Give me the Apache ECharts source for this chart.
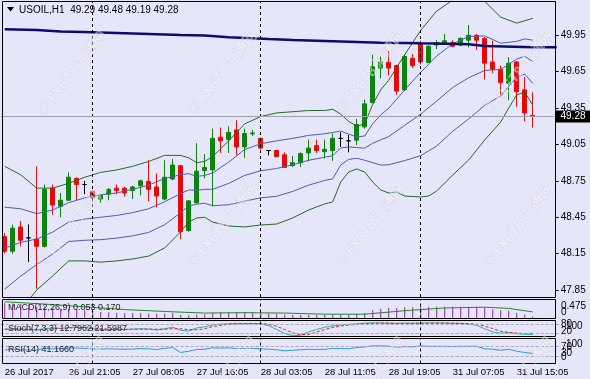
<!DOCTYPE html>
<html><head><meta charset="utf-8">
<script src="https://cdn.jsdelivr.net/npm/echarts@6/dist/echarts.min.js"></script>
<style>html,body{margin:0;padding:0;background:#E6E6FA}#c{width:590px;height:379px}</style>
</head><body><div id="c"></div><script>
// ---- data ----
const daySegments = [['26 Jul', 13, 23], ['27 Jul', 3, 23], ['28 Jul', 3, 22], ['31 Jul', 3, 20]];
const categories = [];
daySegments.forEach(([d, a, b]) => { for (let h = a; h <= b; h++) categories.push(d + ' ' + String(h).padStart(2, '0') + ':05'); });
const timeLabelIdx = [0, 8, 16, 24, 32, 40, 48, 56, 64];
const timeLabelText = ['26 Jul 2017', '26 Jul 21:05', '27 Jul 08:05', '27 Jul 16:05', '28 Jul 03:05', '28 Jul 11:05', '28 Jul 19:05', '31 Jul 07:05', '31 Jul 15:05'];
const separatorIdx = [11, 32, 52];
const priceTicks = [47.85, 48.15, 48.45, 48.75, 49.05, 49.35, 49.65, 49.95];
const lastPrice = 49.28;

const opens  = [48.29,48.17,48.37,48.28,48.27,48.21,48.69,48.54,48.59,48.77,48.72,48.66,48.60,48.64,48.69,48.69,48.67,48.71,48.745,48.70,48.60,48.765,48.875,48.34,48.57,48.835,48.84,49.11,49.09,49.17,49.03,49.138,49.10,49.00,49.00,48.965,48.875,48.90,48.98,49.04,48.99,49.00,49.10,49.08,49.085,49.195,49.395,49.68,49.725,49.70,49.50,49.76,49.88,49.725,49.87,49.88,49.89,49.87,49.91,49.95,49.925,49.73,49.67,49.555,49.73,49.50,49.29];
const highs  = [48.32,48.39,48.42,48.39,48.87,48.72,48.72,48.65,48.82,48.78,48.75,48.675,48.64,48.69,48.72,48.70,48.71,48.76,48.92,48.81,48.92,48.93,48.88,48.59,49.06,48.97,49.18,49.19,49.20,49.25,49.18,49.17,49.105,49.00,49.005,48.985,48.955,48.985,49.09,49.09,49.09,49.14,49.15,49.13,49.26,49.42,49.79,49.775,49.82,49.71,49.79,49.795,49.905,49.865,49.91,49.96,49.91,49.93,50.035,49.96,49.935,49.905,49.70,49.77,49.735,49.605,49.48];
const lows   = [48.15,48.15,48.21,48.08,47.86,48.20,48.47,48.45,48.59,48.59,48.64,48.58,48.57,48.59,48.64,48.62,48.60,48.63,48.58,48.53,48.59,48.755,48.27,48.33,48.56,48.77,48.54,48.98,48.98,48.96,48.94,49.12,49.01,48.96,48.945,48.855,48.865,48.865,48.91,48.98,48.935,48.915,49.03,48.985,49.045,49.18,49.39,49.595,49.62,49.46,49.495,49.68,49.71,49.725,49.835,49.87,49.85,49.86,49.85,49.83,49.585,49.64,49.46,49.415,49.36,49.24,49.19];
const closes = [48.17,48.36,48.26,48.28,48.21,48.68,48.55,48.59,48.78,48.72,48.72,48.61,48.63,48.68,48.67,48.65,48.70,48.75,48.68,48.625,48.78,48.88,48.33,48.585,48.83,48.86,49.10,49.08,49.15,49.03,49.14,49.145,49.02,49.00,48.95,48.86,48.90,48.975,49.02,49.00,49.01,49.10,49.10,49.08,49.215,49.385,49.69,49.73,49.68,49.49,49.775,49.70,49.73,49.86,49.89,49.905,49.86,49.925,49.95,49.91,49.72,49.67,49.56,49.72,49.485,49.31,49.28];

const bbUpper  = [[0,48.87],[2,48.80],[4,48.69],[6,48.69],[8,48.73],[10,48.78],[12,48.82],[14,48.84],[16,48.87],[18,48.91],[20,48.96],[22,48.96],[23,48.94],[24,48.90],[25,48.91],[26,48.95],[28,49.08],[30,49.22],[32,49.28],[34,49.31],[36,49.32],[38,49.33],[40,49.33],[41,49.34],[42,49.30],[43,49.24],[44,49.20],[45,49.22],[46,49.38],[47,49.50],[48,49.58],[50,49.79],[52,49.99],[54,50.15],[56,50.24],[58,50.28],[60,50.23],[62,50.10],[64,50.05],[65,50.07],[66,50.09]];
const bbLower  = [[0,47.52],[2,47.685],[4,47.85],[6,47.966],[8,48.09],[10,48.09],[12,48.08],[14,48.09],[16,48.106],[18,48.13],[20,48.197],[22,48.33],[23,48.41],[24,48.444],[25,48.45],[26,48.41],[28,48.378],[30,48.37],[32,48.386],[34,48.394],[36,48.444],[38,48.51],[40,48.56],[41,48.576],[42,48.74],[43,48.823],[44,48.848],[45,48.823],[46,48.74],[47,48.675],[48,48.65],[49,48.658],[50,48.625],[52,48.617],[53,48.625],[54,48.666],[56,48.798],[58,48.922],[60,49.087],[62,49.235],[63,49.35],[64,49.458],[65,49.483],[66,49.375]];
const bandMid  = [[0,48.195],[2,48.243],[4,48.27],[6,48.328],[8,48.41],[10,48.435],[12,48.45],[14,48.465],[16,48.488],[18,48.52],[20,48.578],[22,48.645],[23,48.675],[24,48.672],[25,48.68],[26,48.68],[28,48.729],[30,48.795],[32,48.833],[34,48.852],[36,48.882],[38,48.92],[40,48.945],[41,48.958],[42,49.02],[43,49.03],[44,49.024],[45,49.02],[46,49.06],[47,49.088],[48,49.115],[50,49.208],[52,49.30],[54,49.408],[56,49.52],[58,49.60],[60,49.66],[62,49.668],[64,49.754],[65,49.777],[66,49.733]];
const bandUp1  = [[0,48.533],[2,48.52],[4,48.48],[6,48.51],[8,48.57],[10,48.61],[12,48.635],[14,48.65],[16,48.68],[18,48.715],[20,48.77],[22,48.80],[23,48.81],[24,48.786],[25,48.795],[26,48.815],[28,48.905],[30,49.008],[32,49.056],[34,49.08],[36,49.10],[38,49.125],[40,49.138],[41,49.149],[42,49.16],[43,49.135],[44,49.112],[45,49.12],[46,49.22],[47,49.294],[48,49.348],[50,49.50],[52,49.645],[54,49.78],[56,49.88],[58,49.94],[60,49.945],[62,49.885],[64,49.90],[65,49.92],[66,49.91]];
const bandLow1 = [[0,47.858],[2,47.964],[4,48.06],[6,48.147],[8,48.25],[10,48.26],[12,48.265],[14,48.278],[16,48.297],[18,48.325],[20,48.388],[22,48.488],[23,48.543],[24,48.558],[25,48.565],[26,48.545],[28,48.553],[30,48.583],[32,48.61],[34,48.623],[36,48.663],[38,48.715],[40,48.753],[41,48.767],[42,48.88],[43,48.927],[44,48.936],[45,48.92],[46,48.90],[47,48.88],[48,48.883],[50,48.917],[52,48.958],[54,49.037],[56,49.159],[58,49.26],[60,49.373],[62,49.45],[64,49.606],[65,49.63],[66,49.554]];
const longMA   = [[0,49.999],[4,49.994],[7,49.981],[11,49.975],[14,49.969],[18,49.961],[22,49.952],[25,49.948],[28,49.934],[33,49.919],[36,49.911],[40,49.903],[44,49.895],[47,49.889],[50,49.887],[52,49.884],[58,49.876],[60,49.862],[66,49.851],[69,49.851]];

const macdMain   = [0.40,0.39,0.37,0.34,0.30,0.30,0.27,0.25,0.25,0.23,0.21,0.19,0.17,0.16,0.15,0.14,0.14,0.14,0.13,0.12,0.13,0.14,0.09,0.08,0.10,0.11,0.14,0.16,0.17,0.17,0.17,0.17,0.16,0.14,0.12,0.10,0.09,0.09,0.09,0.09,0.09,0.10,0.10,0.10,0.12,0.15,0.21,0.25,0.27,0.27,0.29,0.29,0.30,0.30,0.30,0.30,0.30,0.30,0.30,0.30,0.27,0.24,0.21,0.20,0.15,0.10,0.053];
const macdSignal = [[0,0.43],[5,0.37],[10,0.30],[15,0.23],[20,0.18],[25,0.14],[30,0.15],[35,0.14],[40,0.11],[45,0.11],[50,0.20],[55,0.27],[60,0.29],[63,0.26],[66,0.17]];
const stochMain   = [45,50,48,45,42,50,55,52,58,60,58,50,45,45,48,45,47,50,48,42,50,60,40,35,55,62,75,80,82,83,83,84,82,70,45,20,5,8,30,45,60,68,75,78,82,86,88,87,85,84,86,85,86,88,87,86,85,84,80,72,50,30,22,25,18,15,12.7962];
const stochSignal = [48,48,48,47,46,46,49,52,55,57,58,55,51,47,46,46,47,47,48,47,47,50,50,45,43,50,64,72,79,82,83,83,83,79,66,45,23,11,14,28,45,58,68,74,78,82,85,87,87,85,85,85,86,86,87,87,86,85,83,79,67,51,34,26,22,19,21.5987];
const rsiValues   = [55,58,56,55,54,62,60,60,64,63,62,60,59,60,59,58,59,61,60,57,62,65,45,50,57,58,64,63,64,61,62,62,60,58,56,52,54,56,58,57,58,61,61,60,65,68,72,72,71,66,69,68,72,70,70,70,69,70,70,70,60,58,54,58,50,45,41.166];

// ---- chart ----
const FONT = 'Liberation Sans, Arial, sans-serif';
const BG = '#E6E6FA';
const chart = echarts.init(document.getElementById('c'), null, {width: 590, height: 379});
const G = [
  {left: 0.7, width: 560, top: 2, height: 295},
  {left: 0.7, width: 560, top: 300, height: 18.5},
  {left: 0.7, width: 560, top: 321, height: 15.5},
  {left: 0.7, width: 560, top: 339, height: 24.5}
];
const xAxes = G.map((g, i) => ({
  type: 'category', gridIndex: i, data: categories, boundaryGap: true,
  axisLine: {show: false}, axisTick: {show: false}, splitLine: {show: false},
  axisLabel: i === 3 ? {
    show: true, interval: (idx) => timeLabelIdx.includes(idx),
    formatter: (v, idx) => timeLabelText[timeLabelIdx.indexOf(idx)] || '',
    align: 'left', margin: 4, fontSize: 9.5, color: '#000', fontFamily: FONT
  } : {show: false}
}));
const yAxes = [
  {type: 'value', gridIndex: 0, position: 'right', offset: -5, min: 47.7925, max: 50.2245, scale: true,
   axisLine: {show: false}, splitLine: {show: false},
   axisTick: {show: true, customValues: priceTicks, length: 3, lineStyle: {color: '#000'}},
   axisLabel: {show: true, customValues: priceTicks, formatter: v => v.toFixed(2), margin: 5, fontSize: 10, color: '#000', fontFamily: FONT}},
  {type: 'value', gridIndex: 1, min: 0, max: 0.475, show: false},
  {type: 'value', gridIndex: 2, min: 0, max: 100, show: false},
  {type: 'value', gridIndex: 3, min: 0, max: 100, show: false}
];
const sepLine = (extra) => ({
  silent: true, symbol: 'none', animation: false, label: {show: false},
  lineStyle: {type: [3, 3], color: '#000', width: 1},
  data: separatorIdx.map(i => ({xAxis: categories[i]})).concat(extra || [])
});
const lineS = (data, color, width, xi, z) => ({
  type: 'line', data, xAxisIndex: xi || 0, yAxisIndex: xi || 0, symbol: 'none', smooth: false,
  lineStyle: {color, width}, z: z || 3, silent: true
});
const levelLines = (vals) => vals.map(v => ({yAxis: v, lineStyle: {type: [3, 2], color: '#a8a8b8', width: 1}}));

const watermarks = [];
let wi = 0;
[72, 225, 378].forEach(cy => [72, 222, 370, 518].forEach(cx => {
  watermarks.push({id: 'wm' + (wi++), type: 'text', x: cx, y: cy, rotation: 0.9, silent: true, z: 100,
    style: {text: '© FX678 汇通网', font: 'bold 14px "Noto Sans CJK SC", "DejaVu Sans", sans-serif',
      fill: 'rgba(255,255,255,0.45)', stroke: 'rgba(140,140,170,0.22)', lineWidth: 0.6,
      align: 'center', verticalAlign: 'middle', textAlign: 'center', textVerticalAlign: 'middle'}});
}));
let gid = 0;
const border = (x, y, w, h) => ({id: 'g' + (gid++), type: 'rect', shape: {x, y, width: w, height: h}, silent: true, z: 50,
  style: {fill: 'none', stroke: '#000', lineWidth: 1}});
const txt = (text, x, y, size, color, align) => ({id: 'g' + (gid++), type: 'text', x, y, silent: true, z: 60,
  style: {text, font: (size || 10) + 'px ' + FONT, fill: color || '#000', align: align || 'left', verticalAlign: 'middle', textAlign: align || 'left', textVerticalAlign: 'middle'}});

chart.setOption({
  animation: false,
  backgroundColor: BG,
  grid: G,
  xAxis: xAxes,
  yAxis: yAxes,
  series: [
    {type: 'candlestick', xAxisIndex: 0, yAxisIndex: 0, barWidth: 5, z: 2,
     data: opens.map((o, i) => [o, closes[i], lows[i], highs[i]]),
     itemStyle: {color: '#0d840d', color0: '#e60b0b', borderColor: '#0d840d', borderColor0: '#e60b0b', borderColorDoji: '#000', borderWidth: 1},
     markLine: sepLine([{yAxis: lastPrice, lineStyle: {type: 'solid', color: '#a0a0a8', width: 1}}])},
    lineS(bbUpper, '#226b22', 1),
    lineS(bbLower, '#226b22', 1),
    lineS(bandMid, '#4d5cb0', 1),
    lineS(bandUp1, '#4d5cb0', 1),
    lineS(bandLow1, '#4d5cb0', 1),
    lineS(longMA, '#0c0c6e', 2.5, 0, 4),
    {type: 'bar', xAxisIndex: 1, yAxisIndex: 1, data: macdMain, barWidth: 1, itemStyle: {color: '#9a2aa0'}, silent: true, markLine: sepLine()},
    lineS(macdSignal, '#1f8a1f', 1, 1),
    Object.assign(lineS(stochMain, '#20b2aa', 1, 2), {markLine: sepLine(levelLines([20, 80]))}),
    Object.assign(lineS(stochSignal, '#e02020', 1, 2), {lineStyle: {color: '#e02020', width: 1, type: [3, 2]}}),
    Object.assign(lineS(rsiValues, '#2a9ae0', 1, 3), {markLine: sepLine(levelLines([30, 70]))})
  ],
  graphic: [
    border(2.5, 1.5, 553, 296),
    border(2.5, 299.5, 553, 19),
    border(2.5, 320.5, 553, 16),
    border(2.5, 338.5, 553, 25),
    {id: 'tri', type: 'polygon', shape: {points: [[7, 7], [14, 7], [10.5, 11.5]]}, style: {fill: '#000'}, z: 60},
    txt('USOIL,H1  49.29 49.48 49.19 49.28', 19, 10, 10),
    txt('MACD(12,26,9) 0.053 0.170', 8, 308, 9, '#222'),
    txt('Stoch(7,3,3) 12.7962 21.5987', 8, 329, 9, '#222'),
    txt('RSI(14) 41.1660', 8, 350, 9, '#222'),
    txt('0.475', 561, 306, 10), txt('0', 561, 312, 10),
    txt('80', 561, 324, 10), txt('100', 566, 326, 10), txt('20', 561, 331, 10),
    txt('100', 566, 344, 10), txt('70', 561, 347, 10), txt('30', 561, 353, 10), txt('0', 561, 357, 10)
  ].concat(watermarks)
});
// price box placed through the axis scale
const py = chart.convertToPixel({yAxisIndex: 0}, lastPrice);
chart.setOption({graphic: [
  {id: 'pbox', type: 'rect', shape: {x: 556, y: py - 6, width: 34, height: 12}, style: {fill: '#000'}, z: 70, silent: true},
  {id: 'ptxt', type: 'text', x: 573, y: py, z: 71, silent: true, style: {text: lastPrice.toFixed(2), font: '10px ' + FONT, fill: '#fff', align: 'center', verticalAlign: 'middle', textAlign: 'center', textVerticalAlign: 'middle'}}
]});
</script></body></html>
